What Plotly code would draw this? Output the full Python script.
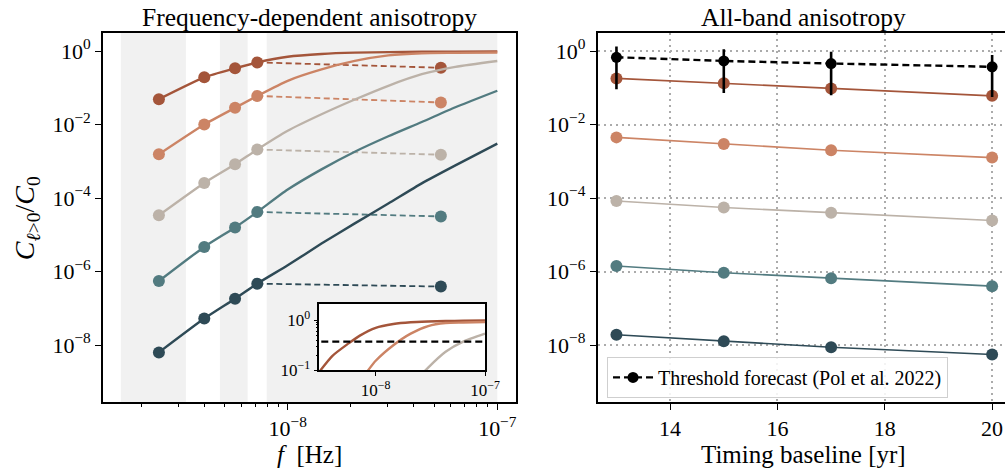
import plotly.graph_objects as go

# ---------------- data ----------------
# Left panel: frequency grid (Hz) on which the model curves were read
f_curve = [2.43e-9, 4.0e-9, 5.61e-9, 7.16e-9, 1.0e-8, 1.45e-8, 2.09e-8, 3.02e-8, 4.36e-8, 6.31e-8, 1.0e-7]
sienna_curve = [0.049, 0.192, 0.339, 0.490, 0.700, 0.832, 0.902, 0.933, 0.955, 0.966, 0.977]
salmon_curve = [1.55e-3, 1.0e-2, 2.85e-2, 6.0e-2, 0.155, 0.316, 0.537, 0.759, 0.871, 0.891, 0.912]
beige_curve = [3.39e-5, 2.57e-4, 8.3e-4, 2.09e-3, 6.76e-3, 1.9e-2, 4.79e-2, 0.1135, 0.234, 0.372, 0.537]
teal_curve = [5.5e-7, 4.68e-6, 1.58e-5, 4.17e-5, 1.7e-4, 6.03e-4, 1.82e-3, 4.79e-3, 1.17e-2, 2.95e-2, 8.3e-2]
slate_curve = [6.3e-9, 5.25e-8, 1.82e-7, 4.68e-7, 1.48e-6, 5.75e-6, 2.04e-5, 7.08e-5, 2.51e-4, 7.76e-4, 3.02e-3]

# band frequencies (markers) and the all-band point
f_bands = [2.43e-9, 4.0e-9, 5.61e-9, 7.16e-9]
f_allband = 5.38e-8
allband_values = [0.351, 0.0398, 1.51e-3, 3.16e-5, 3.9e-7]

# shaded frequency bins
band_edges = [(1.6e-9, 3.27e-9), (4.75e-9, 6.44e-9), (7.94e-9, 1.0e-7)]

# Right panel
baseline_yr = [13, 15, 17, 20]
sienna_base = [0.180, 0.132, 0.0955, 0.0603]
salmon_base = [4.47e-3, 2.95e-3, 2.0e-3, 1.26e-3]
beige_base = [8.3e-5, 5.5e-5, 4.0e-5, 2.45e-5]
teal_base = [1.41e-6, 9.3e-7, 6.6e-7, 4.0e-7]
slate_base = [1.9e-8, 1.26e-8, 8.7e-9, 5.5e-9]
threshold = [0.676, 0.537, 0.457, 0.372]
threshold_hi = [1.32, 1.12, 0.955, 0.776]
threshold_lo = [0.091, 0.072, 0.063, 0.056]

colors = ["#a4553a", "#cc8465", "#bcb2a8", "#527b80", "#2e4a56"]
curves = [sienna_curve, salmon_curve, beige_curve, teal_curve, slate_curve]
base_series = [sienna_base, salmon_base, beige_base, teal_base, slate_base]

FONT = "Liberation Serif, DejaVu Serif, Times New Roman, serif"

def sup(e):
    return "10<sup>" + str(e).replace("-", "\u2212") + "</sup>"

fig = go.Figure()

# ---------------- left panel ----------------
for c, curve, ab in zip(colors, curves, allband_values):
    fig.add_trace(go.Scatter(x=f_curve, y=curve, mode="lines",
                             line=dict(color=c, width=2.4, shape="spline", smoothing=0.6),
                             xaxis="x", yaxis="y", showlegend=False, hoverinfo="skip"))
    n = len(f_bands)
    fig.add_trace(go.Scatter(x=[f_bands[-1], f_allband], y=[curve[n - 1], ab], mode="lines",
                             line=dict(color=c, width=1.8, dash="6px,3.5px"),
                             xaxis="x", yaxis="y", showlegend=False, hoverinfo="skip"))
    fig.add_trace(go.Scatter(x=f_bands + [f_allband], y=curve[:n] + [ab], mode="markers",
                             marker=dict(color=c, size=12),
                             xaxis="x", yaxis="y", showlegend=False))

# inset
for c, curve in zip(colors[:3], curves[:3]):
    fig.add_trace(go.Scatter(x=f_curve, y=curve, mode="lines",
                             line=dict(color=c, width=2.4, shape="spline", smoothing=0.6),
                             xaxis="x3", yaxis="y3", showlegend=False, hoverinfo="skip"))
fig.add_trace(go.Scatter(x=[2.0e-9, 1.2e-7], y=[threshold[-1], threshold[-1]], mode="lines",
                         line=dict(color="black", width=2.4, dash="7px,4px"),
                         xaxis="x3", yaxis="y3", showlegend=False, hoverinfo="skip"))

# ---------------- right panel ----------------
for c, s in zip(colors, base_series):
    fig.add_trace(go.Scatter(x=baseline_yr, y=s, mode="lines+markers",
                             line=dict(color=c, width=1.6), marker=dict(color=c, size=12),
                             xaxis="x2", yaxis="y2", showlegend=False))

fig.add_trace(go.Scatter(
    x=baseline_yr, y=threshold, mode="lines+markers",
    name="Threshold forecast (Pol et al. 2022)",
    line=dict(color="black", width=2.4, dash="7px,4px"),
    marker=dict(color="black", size=11),
    error_y=dict(type="data", symmetric=False,
                 array=[h - t for h, t in zip(threshold_hi, threshold)],
                 arrayminus=[t - l for t, l in zip(threshold, threshold_lo)],
                 color="black", thickness=2.6, width=0),
    xaxis="x2", yaxis="y2", showlegend=True))

# shaded bins
shapes = []
for a, b in band_edges:
    shapes.append(dict(type="rect", xref="x", yref="y domain", x0=a, x1=b, y0=0, y1=1,
                       fillcolor="#f1f1f1", line=dict(width=0), layer="below"))

ydec = [1, 1e-2, 1e-4, 1e-6, 1e-8]
ytxt = [sup(0), sup(-2), sup(-4), sup(-6), sup(-8)]

common = dict(showline=True, linecolor="black", linewidth=1.6, mirror=True,
              ticks="outside", tickcolor="black", tickwidth=1.2, ticklen=6,
              zeroline=False, automargin=False,
              tickfont=dict(family=FONT, size=22, color="black"))

minor_f = [k * 1e-9 for k in range(2, 10)] + [k * 1e-8 for k in range(2, 10)]
minor_inset = [k * 0.1 for k in range(2, 10)]

fig.update_layout(
    width=1005, height=469,
    margin=dict(l=0, r=0, t=0, b=0, pad=0, autoexpand=False),
    paper_bgcolor="white", plot_bgcolor="white",
    font=dict(family=FONT, color="black"),
    shapes=shapes,
    xaxis=dict(domain=[0.1025, 0.5134], type="log", range=[-8.881, -6.911],
               tickvals=[1e-8, 1e-7], ticktext=[sup(-8), sup(-7)], showgrid=False,
               minor=dict(tickvals=minor_f, ticks="outside", ticklen=3.5, tickwidth=1, tickcolor="black"),
               anchor="y", **common),
    yaxis=dict(domain=[0.1429, 0.9296], type="log", range=[-9.55, 0.49],
               tickvals=ydec, ticktext=ytxt, showgrid=False, anchor="x", **common),
    xaxis2=dict(domain=[0.5947, 1.0], range=[12.65, 20.24],
                tickvals=[14, 16, 18, 20], showgrid=True, gridcolor="#ababab",
                gridwidth=2, griddash="2px,4px", anchor="y2", **common),
    yaxis2=dict(domain=[0.1429, 0.9296], type="log", range=[-9.55, 0.49],
                tickvals=ydec, ticktext=ytxt, showgrid=True, gridcolor="#ababab",
                gridwidth=2, griddash="2px,4px", anchor="x2", **common),
    xaxis3=dict(domain=[0.3177, 0.4826], type="log", range=[-8.516, -7.0],
                tickvals=[1e-8, 1e-7], ticktext=[sup(-8), sup(-7)], showgrid=False,
                showline=True, linecolor="black", linewidth=1.5, mirror=True,
                ticks="outside", tickcolor="black", tickwidth=1, ticklen=4, zeroline=False,
                automargin=False,
                tickfont=dict(family=FONT, size=17, color="black"), anchor="y3"),
    yaxis3=dict(domain=[0.2104, 0.3518], type="log", range=[-1.0, 0.318],
                tickvals=[0.1, 1.0], ticktext=[sup(-1), sup(0)], showgrid=False,
                showline=True, linecolor="black", linewidth=1.5, mirror=True,
                ticks="outside", tickcolor="black", tickwidth=1, ticklen=4, zeroline=False,
                automargin=False,
                minor=dict(tickvals=minor_inset, ticks="outside", ticklen=2, tickwidth=0.8, tickcolor="black"),
                tickfont=dict(family=FONT, size=17, color="black"), anchor="x3"),
    legend=dict(x=0.604, y=0.239, xanchor="left", yanchor="top", itemwidth=40,
                bgcolor="rgba(255,255,255,0.85)", bordercolor="#cfcfcf", borderwidth=1,
                font=dict(family=FONT, size=20, color="black")),
    annotations=[
        dict(text="Frequency-dependent anisotropy", x=0.308, y=0.962, xref="paper", yref="paper",
             showarrow=False, font=dict(family=FONT, size=25.5), xanchor="center", yanchor="middle"),
        dict(text="All-band anisotropy", x=0.7998, y=0.962, xref="paper", yref="paper",
             showarrow=False, font=dict(family=FONT, size=25.5), xanchor="center", yanchor="middle"),
        dict(text="<i>f</i>  [Hz]", x=0.308, y=0.031, xref="paper", yref="paper",
             showarrow=False, font=dict(family=FONT, size=25), xanchor="center", yanchor="middle"),
        dict(text="Timing baseline [yr]", x=0.7998, y=0.031, xref="paper", yref="paper",
             showarrow=False, font=dict(family=FONT, size=25), xanchor="center", yanchor="middle"),
        dict(text="<i>C</i><sub><i>\u2113</i>&gt;0</sub>/<i>C</i><sub>0</sub>", x=0.026, y=0.535,
             xref="paper", yref="paper", textangle=-90,
             showarrow=False, font=dict(family=FONT, size=28), xanchor="center", yanchor="middle"),
    ],
)

fig.write_html("out.html", config={"responsive": False, "displayModeBar": False},
               post_script="document.documentElement.style.margin='0';document.body.style.margin='0';document.body.style.overflow='hidden';")
